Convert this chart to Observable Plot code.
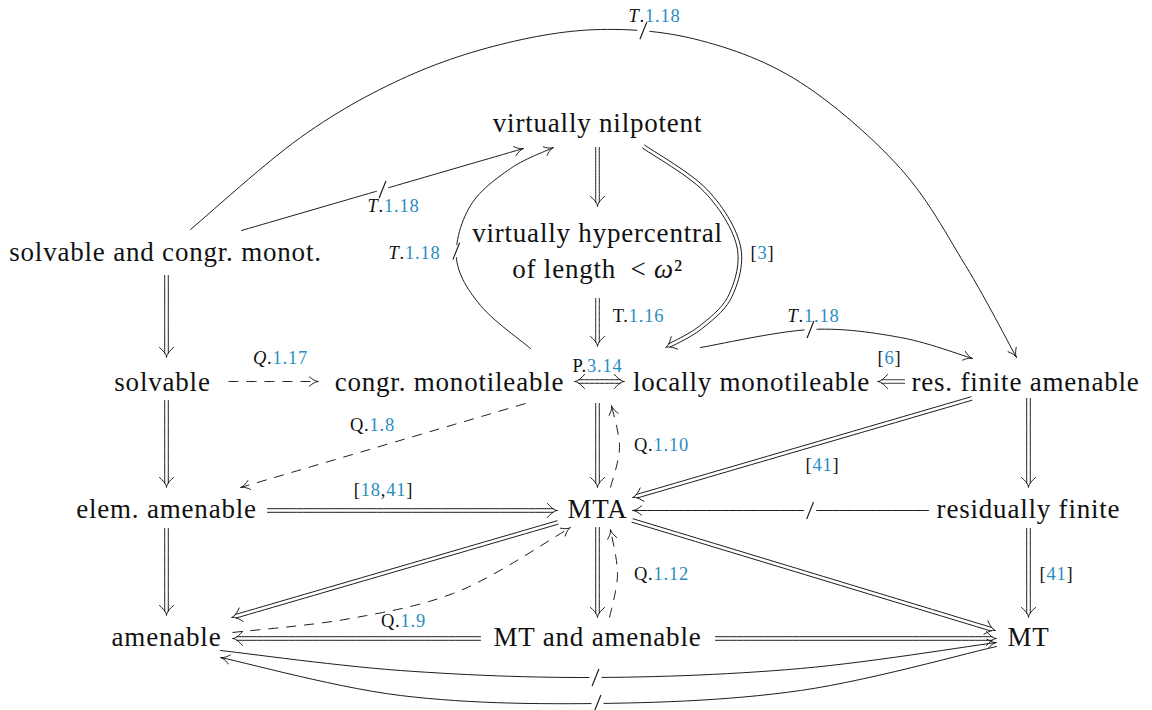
<!DOCTYPE html>
<html>
<head>
<meta charset="utf-8">
<script src="https://cdn.jsdelivr.net/npm/d3@7"></script>
<script src="https://cdn.jsdelivr.net/npm/@observablehq/plot@0.6"></script>
<style>
  html, body { margin: 0; padding: 0; background: #fff; }
  #chart svg { display: block; }
</style>
</head>
<body>
<div id="chart"></div>
<script>
// ---------- data ----------
const nodeLabels = [
  "solvable and congr. monot.", "virtually nilpotent", "virtually hypercentral\nof length\u2002< _ω_²",
  "solvable", "congr. monotileable", "locally monotileable", "res. finite amenable",
  "elem. amenable", "MTA", "residually finite",
  "amenable", "MT and amenable", "MT"
];
// edge kinds: s = single arrow, d = double arrow, b = double arrow both ends, k = dashed arrow
const edgeKind = ["s","s","s","d","d","d","s","d","b","k","d","d","d","k","d","k","d","d","s","d","d","k","d","k","d","d","d","d","s","s"];
// waypoints
const edgePaths = [
  [[190,229],[300,137],[400,79],[500,44],[600,29],[700,40],[800,82],[900,168],[965,265],[1016,357]],
  [[241,230],[523,148]],
  [[530,348],[480,305],[456,258],[470,205],[510,168],[553,147]],
  [[597,147],[597,206]],
  [[643,146],[705,190],[738,245],[730,295],[700,327],[665,347]],
  [[597,298],[597,346]],
  [[700,347],[810,329],[900,337],[972,358]],
  [[904,381],[877,381]],
  [[574,381],[624,381]],
  [[228,381],[318,381]],
  [[166,275],[166,357]],
  [[166,400],[166,487]],
  [[166,528],[166,615]],
  [[525,403],[240,487]],
  [[597,403],[597,487]],
  [[610,487],[619,447],[611,405]],
  [[971,398],[632,497]],
  [[1028,398],[1028,487]],
  [[928,510],[632,510]],
  [[267,510],[557,510]],
  [[557,522],[231,617]],
  [[232,632],[350,618],[460,590],[570,527]],
  [[597,527],[597,617]],
  [[609,617],[617,574],[610,529]],
  [[632,520],[995,630]],
  [[1028,528],[1028,617]],
  [[480,638],[232,638]],
  [[715,638],[996,638]],
  [[220,650],[400,670],[595,677],[800,668],[996,642]],
  [[996,646],[800,690],[597,703],[400,695],[220,657]]
];
// "not implies" slashes: which edge carries one
const slashEdge = [0, 1, 2, 6, 18, 28, 29];
// edge labels: _x_ italic, {x} blue reference
const labelText = ["_T_.{1.18}","_T_.{1.18}","_T_.{1.18}","[{3}]","T.{1.16}","_T_.{1.18}","[{6}]","P.{3.14}","_Q_.{1.17}","Q.{1.8}","Q.{1.10}","[{41}]","[{18},{41}]","Q.{1.9}","Q.{1.12}","[{41}]"];

// ---------- layout ----------
const nodeX = [165,597,597,162,449,751,1025,166,597,1028,166,597,1028];
const nodeY = [249,120,248,379,379,379,379,506,506,506,634,634,634];
const slashX = [640,381,455,810,813,595,597];
const slashY = [31,189,250,330,510,677,703];
const labelX = [654,393,414,762,638,813,889,597,280,372,661,822,383,403,661,1056];
const labelY = [16,206,253,253,316,316,358,366,358,425,445,465,490,621,574,574];

const W = 1152, H = 710;
const BLUE = "#2b8cbf";

// ---------- geometry helpers ----------
function catmull(pts, n = 14) {
  if (pts.length === 2) return pts.map(p => [p[0], p[1]]);
  const out = [];
  for (let i = 0; i < pts.length - 1; i++) {
    const p0 = pts[Math.max(i - 1, 0)], p1 = pts[i], p2 = pts[i + 1], p3 = pts[Math.min(i + 2, pts.length - 1)];
    for (let k = 0; k < n; k++) {
      const t = k / n, t2 = t * t, t3 = t2 * t;
      const f = j => 0.5 * (2 * p1[j] + (-p0[j] + p2[j]) * t + (2 * p0[j] - 5 * p1[j] + 4 * p2[j] - p3[j]) * t2 + (-p0[j] + 3 * p1[j] - 3 * p2[j] + p3[j]) * t3);
      out.push([f(0), f(1)]);
    }
  }
  out.push(pts[pts.length - 1].slice());
  return out;
}
function densify(pts) { // for straight lines, add samples
  if (pts.length !== 2) return pts;
  const [a, b] = pts, out = [];
  for (let k = 0; k <= 40; k++) out.push([a[0] + (b[0] - a[0]) * k / 40, a[1] + (b[1] - a[1]) * k / 40]);
  return out;
}
function trimEnd(pts, d) {
  pts = pts.slice();
  while (d > 0 && pts.length >= 2) {
    const a = pts[pts.length - 2], b = pts[pts.length - 1];
    const L = Math.hypot(b[0] - a[0], b[1] - a[1]);
    if (L > d) { const r = (L - d) / L; pts[pts.length - 1] = [a[0] + (b[0] - a[0]) * r, a[1] + (b[1] - a[1]) * r]; break; }
    d -= L; pts.pop();
  }
  return pts;
}
function trimStart(pts, d) { return trimEnd(pts.slice().reverse(), d).reverse(); }
function pointBack(pts, d) {
  let i = pts.length - 1, rem = d;
  while (i > 0) {
    const a = pts[i - 1], b = pts[i], L = Math.hypot(b[0] - a[0], b[1] - a[1]);
    if (L >= rem) { const r = rem / L; return [b[0] + (a[0] - b[0]) * r, b[1] + (a[1] - b[1]) * r]; }
    rem -= L; i--;
  }
  return pts[0];
}
function offsetPath(pts, o) {
  return pts.map((p, i) => {
    const a = pts[Math.max(i - 1, 0)], b = pts[Math.min(i + 1, pts.length - 1)];
    const dx = b[0] - a[0], dy = b[1] - a[1], L = Math.hypot(dx, dy) || 1;
    return [p[0] - dy / L * o, p[1] + dx / L * o];
  });
}
function head(pts, L, Wd) {
  const tip = pts[pts.length - 1], back = pointBack(pts, 7);
  let ux = tip[0] - back[0], uy = tip[1] - back[1];
  const n = Math.hypot(ux, uy) || 1; ux /= n; uy /= n;
  const nx = -uy, ny = ux;
  const barb = s => {
    const P0 = [tip[0] - ux * L + s * nx * Wd, tip[1] - uy * L + s * ny * Wd];
    const C = [tip[0] - ux * L * 0.4, tip[1] - uy * L * 0.4];
    const r = [];
    for (let k = 0; k <= 6; k++) {
      const t = k / 6;
      r.push([(1 - t) * (1 - t) * P0[0] + 2 * (1 - t) * t * C[0] + t * t * tip[0],
              (1 - t) * (1 - t) * P0[1] + 2 * (1 - t) * t * C[1] + t * t * tip[1]]);
    }
    return r;
  };
  return barb(1).concat(barb(-1).reverse().slice(1));
}

// ---------- build line rows ----------
const solidRows = [], dashedRows = [];
let gid = 0;
function push(rows, pts) { const g = gid++; for (const p of pts) rows.push({x: p[0], y: p[1], g}); }
const sampled = edgePaths.map(wp => densify(catmull(wp)));
sampled.forEach((pts, i) => {
  const kind = edgeKind[i];
  if (kind === "d" || kind === "b") {
    let body = trimEnd(pts, 4.3);
    if (kind === "b") body = trimStart(body, 4.3);
    push(solidRows, offsetPath(body, 1.8));
    push(solidRows, offsetPath(body, -1.8));
    push(solidRows, head(pts, 10, 7));
    if (kind === "b") push(solidRows, head(pts.slice().reverse(), 10, 7));
  } else {
    push(kind === "k" ? dashedRows : solidRows, trimEnd(pts, 0.5));
    push(solidRows, head(pts, 9, 4.6));
  }
});

// slashes: snap to the nearest point of their edge, gap along the tangent
const gaps = [], slashes = [];
slashEdge.forEach((e, i) => {
  const pts = sampled[e];
  let best = 0, bd = Infinity;
  pts.forEach((p, j) => { const d = Math.hypot(p[0] - slashX[i], p[1] - slashY[i]); if (d < bd) { bd = d; best = j; } });
  const p = pts[best], a = pts[Math.max(best - 1, 0)], b = pts[Math.min(best + 1, pts.length - 1)];
  const L = Math.hypot(b[0] - a[0], b[1] - a[1]) || 1, ux = (b[0] - a[0]) / L, uy = (b[1] - a[1]) / L;
  gaps.push({x1: p[0] - ux * 6, y1: p[1] - uy * 6, x2: p[0] + ux * 6, y2: p[1] + uy * 6});
  slashes.push({x1: p[0] - 3.4, y1: p[1] + 8.5, x2: p[0] + 3.4, y2: p[1] - 8.5});
});

const nodes = nodeLabels.map((t, i) => ({t, x: nodeX[i], y: nodeY[i]}));
const labels = labelText.map((t, i) => ({t, x: labelX[i], y: labelY[i]}));

const svg = Plot.plot({
  width: W, height: H, margin: 0,
  x: {domain: [0, W], range: [0, W], axis: null},
  y: {domain: [0, H], range: [0, H], axis: null},
  style: {fontFamily: "'Liberation Serif', serif", background: "white", letterSpacing: "0.8px", color: "#1a1a1a"},
  marks: [
    Plot.line(solidRows, {x: "x", y: "y", z: "g", stroke: "#111", strokeWidth: 0.95, curve: "linear"}),
    Plot.line(dashedRows, {x: "x", y: "y", z: "g", stroke: "#111", strokeWidth: 0.95, curve: "linear", strokeDasharray: "10,8", strokeLinecap: "butt"}),
    Plot.link(gaps, {x1: "x1", y1: "y1", x2: "x2", y2: "y2", stroke: "white", strokeWidth: 4, strokeLinecap: "butt"}),
    Plot.link(slashes, {x1: "x1", y1: "y1", x2: "x2", y2: "y2", stroke: "#111", strokeWidth: 1.1}),
    Plot.text(nodes, {x: "x", y: "y", text: "t", fontSize: 27, lineHeight: 1.315, fill: "#111"}),
    Plot.text(labels, {x: "x", y: "y", text: "t", fontSize: 18.5, fill: "#111"})
  ]
});

// rich-text markup: {..} blue, _.._ italic
d3.select(svg).selectAll("text, tspan").each(function () {
  if (this.childNodes.length !== 1 || this.firstChild.nodeType !== 3) return;
  const s = this.firstChild.nodeValue;
  if (!/[{_]/.test(s)) return;
  const parts = s.split(/(\{[^}]*\}|_[^_]*_)/).filter(p => p);
  this.textContent = "";
  for (const p of parts) {
    const t = document.createElementNS("http://www.w3.org/2000/svg", "tspan");
    if (p[0] === "{") { t.textContent = p.slice(1, -1); t.setAttribute("fill", BLUE); }
    else if (p[0] === "_") { t.textContent = p.slice(1, -1); t.setAttribute("font-style", "italic"); }
    else t.textContent = p;
    this.appendChild(t);
  }
});

document.getElementById("chart").appendChild(svg);
</script>
</body>
</html>
